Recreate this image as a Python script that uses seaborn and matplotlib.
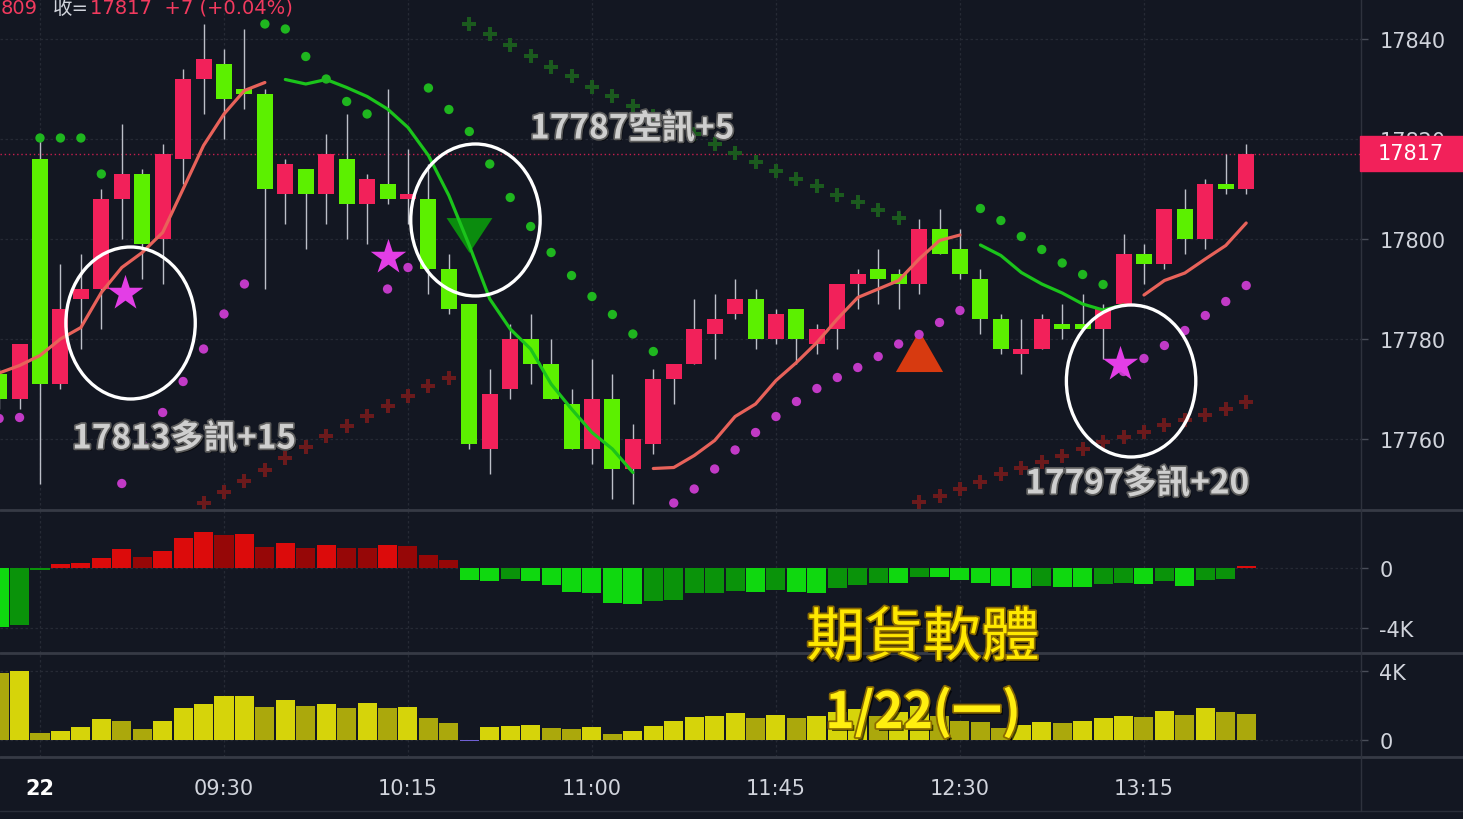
import numpy as np
import pandas as pd
import matplotlib
matplotlib.use("Agg")
import matplotlib.pyplot as plt
import seaborn as sns
from matplotlib.patches import Ellipse, Rectangle
from matplotlib.lines import Line2D
import matplotlib.patheffects as pe

sns.set_theme(style="dark")
plt.rcParams['font.family'] = ['DejaVu Sans', 'Noto Sans CJK TC']

# ---------------- data (5-minute bars, index 0 = 08:45) ----------------
bar_index = list(range(-2, 60))
opens = [17773, 17768, 17816, 17771, 17788, 17790, 17808, 17813, 17800, 17816,
         17832, 17835, 17830, 17829, 17809, 17814, 17809, 17816, 17807, 17811,
         17808, 17808, 17794, 17787, 17758, 17770, 17780, 17775, 17767, 17758,
         17768, 17754, 17759, 17772, 17775, 17781, 17785, 17788, 17780, 17786,
         17779, 17782, 17791, 17794, 17793, 17791, 17802, 17798, 17792, 17784,
         17777, 17778, 17783, 17783, 17782, 17787, 17797, 17795, 17806, 17800,
         17811, 17810]
highs = [17774, 17779, 17820, 17795, 17797, 17810, 17823, 17814, 17819, 17834,
         17843, 17838, 17842, 17830, 17816, 17814, 17821, 17825, 17813, 17830,
         17818, 17815, 17797, 17787, 17774, 17783, 17785, 17780, 17770, 17776,
         17773, 17763, 17774, 17775, 17788, 17789, 17792, 17790, 17786, 17786,
         17783, 17791, 17794, 17798, 17794, 17804, 17806, 17802, 17794, 17785,
         17784, 17785, 17787, 17789, 17787, 17801, 17799, 17806, 17810, 17812,
         17817, 17819]
lows = [17766, 17766, 17751, 17770, 17778, 17782, 17800, 17792, 17791, 17811,
        17825, 17820, 17826, 17790, 17803, 17798, 17803, 17800, 17799, 17807,
        17803, 17789, 17785, 17758, 17753, 17768, 17771, 17768, 17758, 17755,
        17748, 17747, 17757, 17767, 17775, 17776, 17784, 17778, 17779, 17775,
        17777, 17778, 17786, 17787, 17786, 17789, 17797, 17792, 17781, 17777,
        17773, 17778, 17780, 17782, 17776, 17787, 17791, 17794, 17797, 17798,
        17809, 17809]
closes = [17768, 17779, 17771, 17786, 17790, 17808, 17813, 17799, 17817, 17832,
          17836, 17828, 17829, 17810, 17815, 17809, 17817, 17807, 17812, 17808,
          17809, 17794, 17786, 17759, 17769, 17780, 17775, 17768, 17758, 17768,
          17754, 17760, 17772, 17775, 17782, 17784, 17788, 17780, 17785, 17780,
          17782, 17791, 17793, 17792, 17791, 17802, 17797, 17793, 17784, 17778,
          17778, 17784, 17782, 17782, 17786, 17797, 17795, 17806, 17800, 17811,
          17810, 17817]
ma_line = [17773.2, 17774.7, 17776.7, 17780.0, 17782.3, 17789.3, 17794.3, 17797.3, 17801.3, 17810.0,
           17818.7, 17825.0, 17829.7, 17831.3, 17831.9, 17831.0, 17831.9, 17830.3, 17828.5, 17826.0,
           17822.3, 17816.7, 17808.7, 17798.7, 17788.0, 17782.0, 17778.0, 17771.0, 17766.0, 17761.3,
           17758.0, 17753.3, 17754.1, 17754.3, 17756.7, 17759.7, 17764.5, 17767.0, 17771.7, 17775.3,
           17779.3, 17784.0, 17788.3, 17790.0, 17791.7, 17796.0, 17799.7, 17800.8, 17798.8, 17796.7,
           17793.3, 17791.0, 17789.2, 17787.0, 17785.8, 17786.8, 17788.8, 17791.7, 17793.2, 17796.0,
           17798.7, 17803.2]
ma_trend = ['up'] * 14 + ['down'] * 18 + ['up'] * 16 + ['down'] * 8 + ['up'] * 6
sar = [17764.1, 17764.3, 17820.2, 17820.2, 17820.2, 17813.0, 17751.1, 17759.0, 17765.3, 17771.5,
       17778.0, 17785.0, 17791.0, 17843.0, 17842.0, 17836.5, 17832.0, 17827.5, 17825.0, 17790.0,
       17794.3, 17830.2, 17825.9, 17821.5, 17815.0, 17808.3, 17802.5, 17797.3, 17792.7, 17788.5,
       17784.9, 17781.0, 17777.5, 17747.2, 17750.0, 17754.0, 17757.8, 17761.3, 17764.5, 17767.5,
       17770.1, 17772.3, 17774.3, 17776.5, 17779.0, 17780.9, 17783.3, 17785.7, 17806.1, 17803.7,
       17800.5, 17797.9, 17795.2, 17792.9, 17790.9, 17773.5, 17776.1, 17778.7, 17781.7, 17784.7,
       17787.5, 17790.7]
macd_hist = [-3953, -3800, -150, 247, 311, 689, 1267, 756, 1156, 2000,
             2378, 2222, 2267, 1400, 1667, 1333, 1556, 1333, 1333, 1511,
             1444, 867, 533, -800, -844, -733, -889, -1133, -1622, -1650,
             -2356, -2422, -2178, -2111, -1667, -1667, -1511, -1622, -1467, -1622,
             -1640, -1333, -1133, -1000, -1020, -578, -590, -800, -1000, -1222,
             -1333, -1222, -1240, -1250, -1067, -1000, -1067, -889, -1178, -778,
             -733, 111]
volume = [3867, 3981, 388, 541, 734, 1217, 1121, 638, 1121, 1874,
          2068, 2531, 2560, 1932, 2319, 1990, 2087, 1836, 2145, 1874,
          1932, 1275, 986, -60, 734, 831, 870, 676, 638, 773,
          348, 541, 831, 1082, 1314, 1372, 1565, 1275, 1468, 1275,
          1410, 1643, 1797, 1410, 1643, 1990, 1372, 1100, 1024, 676,
          870, 1024, 966, 1082, 1275, 1372, 1350, 1700, 1468, 1855,
          1643, 1507]

bear_cross_idx = list(range(21, 43))
bear_cross = [17843.0, 17841.0, 17838.8, 17836.6, 17834.4, 17832.6, 17830.4, 17828.6, 17826.6, 17824.6,
              17822.6, 17821.0, 17819.0, 17817.2, 17815.4, 17813.6, 17812.0, 17810.6, 17808.8, 17807.4,
              17805.8, 17804.2]
bull_cross_idx = list(range(8, 21)) + list(range(43, 60))
bull_cross = [17747.2, 17749.4, 17751.6, 17753.8, 17756.2, 17758.4, 17760.6, 17762.6, 17764.6, 17766.6,
              17768.6, 17770.6, 17772.2,
              17747.4, 17748.6, 17750.0, 17751.4, 17753.0, 17754.2, 17755.4, 17756.6, 17758.0, 17759.4,
              17760.4, 17761.4, 17762.8, 17763.8, 17764.8, 17766.0, 17767.4]

star_x = [4.15, 17.0, 52.85]
star_y = [17789.3, 17796.4, 17775.0]
short_sig_x, short_sig_y = [21.0], [17800.8]
long_sig_x, long_sig_y = [43.0], [17777.6]
circle_x = [4.43, 21.3, 53.37]
circle_y = [17783.2, 17803.8, 17771.6]
notes = ["17813多訊+15", "17787空訊+5", "17797多訊+20"]
note_x = [1.57, 23.97, 48.19]
note_y = [17760.0, 17822.0, 17751.0]
time_ticks = [0, 9, 18, 27, 36, 45, 54]
time_labels = ["22", "09:30", "10:15", "11:00", "11:45", "12:30", "13:15"]
price_ticks = [17760, 17780, 17800, 17820, 17840]
title_main = "期貨軟體"
title_date = "1/22(一)"

df = pd.DataFrame({"idx": bar_index, "open": opens, "high": highs, "low": lows,
                   "close": closes, "ma": ma_line, "trend": ma_trend, "sar": sar,
                   "macd": macd_hist, "vol": volume})
df["sar_pos"] = np.where(df["sar"] > df["close"], "above", "below")

# ---------------- style ----------------
BG = '#131722'
UP, DN = '#f2215a', '#5cf000'
GRID = '#262a35'
TXT = '#d1d4dc'
W, H = 1463, 820
PLOT_R = 1360
XLIM = (-40 / 20.444, (PLOT_R - 40) / 20.444)

fig = plt.figure(figsize=(W / 100, H / 100), dpi=100, facecolor=BG)
ax = fig.add_axes([0, 1 - 511 / H, PLOT_R / W, 511 / H])
ax2 = fig.add_axes([0, 1 - 654 / H, PLOT_R / W, 143 / H])
ax3 = fig.add_axes([0, 1 - 758 / H, PLOT_R / W, 104 / H])

# ---------- main panel ----------
is_up = df["close"] >= df["open"]
ax.vlines(df["idx"], df["low"], df["high"], color='#bcbfc8', lw=1, zorder=2)
body_h = (df["close"] - df["open"]).abs()
body_b = df[["open", "close"]].min(axis=1)
ax.bar(df["idx"], body_h, bottom=body_b, width=0.78,
       color=np.where(is_up, UP, DN), zorder=3, linewidth=0)

# trend crosses
sns.scatterplot(x=bear_cross_idx, y=bear_cross, marker='P', s=90, color='#1b5a1e',
                linewidth=0, ax=ax, zorder=2, legend=False)
sns.scatterplot(x=bull_cross_idx, y=bull_cross, marker='P', s=90, color='#6b1a1c',
                linewidth=0, ax=ax, zorder=2, legend=False)

# signal triangles
tri_down = [(-1, 0.76), (1, 0.76), (0, -0.76), (-1, 0.76)]
tri_up = [(-1, -0.87), (1, -0.87), (0, 0.87), (-1, -0.87)]
ax.scatter(short_sig_x, short_sig_y, marker=tri_down, s=33 ** 2, color='#0b8c0e', linewidth=0, zorder=3.5)
ax.scatter(long_sig_x, long_sig_y, marker=tri_up, s=34 ** 2, color='#d73a10', linewidth=0, zorder=3.5)

# moving-average segments coloured by trend
seg_id = (df["trend"] != df["trend"].shift()).cumsum()
for _, seg in df.groupby(seg_id):
    col = '#e8625a' if seg["trend"].iloc[0] == 'up' else '#1bc41b'
    sns.lineplot(data=seg, x="idx", y="ma", color=col, lw=2.3, ax=ax,
                 estimator=None, sort=False, legend=False, zorder=4)

# SAR dots
sns.scatterplot(data=df, x="idx", y="sar", hue="sar_pos",
                palette={"above": '#1fb61f', "below": '#c13ac6'},
                s=45, linewidth=0, ax=ax, legend=False, zorder=5)

# stars
sns.scatterplot(x=star_x, y=star_y, marker='*', s=720, color='#e33ee6',
                linewidth=0, ax=ax, legend=False, zorder=6)

# circles
for cx, cy in zip(circle_x, circle_y):
    ax.add_patch(Ellipse((cx, cy), width=6.33, height=30.4, fill=False,
                         ec='white', lw=2.4, zorder=8))

# notes
for t, x, y in zip(notes, note_x, note_y):
    ax.text(x, y, t, ha='left', va='center', fontsize=24, fontweight='bold',
            color='#cfcfcf', family=['Noto Sans CJK TC'], zorder=9,
            path_effects=[pe.withSimplePatchShadow(offset=(1.5, -1.5), shadow_rgbFace='#000000', alpha=0.6),
                          pe.Stroke(linewidth=2.5, foreground='#5d5d5d'), pe.Normal()])

last = df["close"].iloc[-1]
prev = df["close"].iloc[-2]
ax.axhline(last, color=UP, lw=1, linestyle=(0, (1, 2)), alpha=0.8, zorder=1)

# ---------- MACD histogram ----------
mcol = []
for k, v in enumerate(macd_hist):
    pv = macd_hist[k - 1] if k > 0 else None
    strong = pv is None or np.sign(v) != np.sign(pv) or abs(v) > abs(pv)
    if v >= 0:
        mcol.append('#dc0b0b' if strong else '#960707')
    else:
        mcol.append('#0fd80f' if strong else '#0a930a')
ax2.bar(df["idx"], df["macd"], width=0.93, color=mcol, linewidth=0, zorder=3)

# ---------- volume ----------
vcol = []
for k, v in enumerate(volume):
    pv = volume[k - 1] if k > 0 else None
    if v < 0:
        vcol.append('#7060d4')
    elif pv is not None and v > pv:
        vcol.append('#d6d40a')
    else:
        vcol.append('#aba80c')
ax3.bar(df["idx"], df["vol"], width=0.93, color=vcol, linewidth=0, zorder=3)

# ---------- axes cosmetics ----------
for a in (ax, ax2, ax3):
    a.set_facecolor(BG)
    for s in a.spines.values():
        s.set_visible(False)
    a.set_xlim(*XLIM)
    a.set_xticks(time_ticks)
    a.yaxis.tick_right()
    a.grid(True, color=GRID, lw=0.9, linestyle=(0, (2, 2)))
    a.set_axisbelow(True)
    a.tick_params(axis='y', colors='#4a4e59', labelcolor=TXT, labelsize=15, length=6, pad=8, width=1)
    a.set_xlabel('')
    a.set_ylabel('')

ax.set_ylim(17745.8, 17848)
ax2.set_ylim(-5667, 3867)
ax3.set_ylim(-986, 5043)

ax.set_yticks(price_ticks)
ax.set_yticklabels([str(p) for p in price_ticks])
ax.tick_params(axis='x', length=0, labelbottom=False)
ax2.set_yticks([0, -4000])
ax2.set_yticklabels(['0', '-4K'])
ax2.tick_params(axis='x', length=0, labelbottom=False)
ax3.set_yticks([0, 4000])
ax3.set_yticklabels(['0', '4K'])
ax3.set_xticklabels(time_labels)
ax3.tick_params(axis='x', colors='#4a4e59', labelcolor=TXT, labelsize=15, length=6, pad=9, width=1)
lab0 = ax3.get_xticklabels()[0]
lab0.set_fontweight('bold')
lab0.set_color('white')

# ---------- separators ----------
for py in (511, 654, 758):
    fig.add_artist(Line2D([0, 1], [1 - py / H] * 2, color='#363a45', lw=2, transform=fig.transFigure))
fig.add_artist(Line2D([0, 1], [1 - 812 / H] * 2, color='#2a2e39', lw=1, transform=fig.transFigure))
fig.add_artist(Line2D([(PLOT_R + 1) / W] * 2, [1 - 812 / H, 1], color='#2e323d', lw=1, transform=fig.transFigure))

# last price tag
fig.add_artist(Rectangle((PLOT_R / W, 1 - 172 / H), 103 / W, 35 / H, color=UP,
                         transform=fig.transFigure, zorder=5))
fig.text(1378 / W, 1 - 154.5 / H, f"{last}", color='white', fontsize=15,
         ha='left', va='center', zorder=6)

# header (cut by top border)
chg = last - prev
pct = chg / prev * 100
fig.text(1 / W, 1 - 14 / H, "809", color='#f23a5e', fontsize=14, va='baseline')
fig.text(53 / W, 1 - 14 / H, "收=", color='#d1d4dc', fontsize=14, va='baseline')
fig.text(90 / W, 1 - 14 / H, f"{last}  {chg:+d} ({pct:+.2f}%)", color='#f23a5e',
         fontsize=14, va='baseline')

# yellow titles
yl_fx = [pe.withSimplePatchShadow(offset=(2, -2), shadow_rgbFace='#000000', alpha=0.7),
         pe.Stroke(linewidth=2.5, foreground='#8a6a00'), pe.Normal()]
fig.text(923 / W, 1 - 640 / H, title_main, color='#ffe800', fontsize=42, fontweight='medium',
         family=['Noto Sans CJK TC'], ha='center', va='center', path_effects=yl_fx, zorder=10)
fig.text(923 / W, 1 - 714 / H, title_date, color='#ffee10', fontsize=36, fontweight='bold',
         family=['Noto Sans CJK TC'], ha='center', va='center', path_effects=yl_fx, zorder=10)

fig.savefig("out.png", dpi=100, facecolor=BG)
